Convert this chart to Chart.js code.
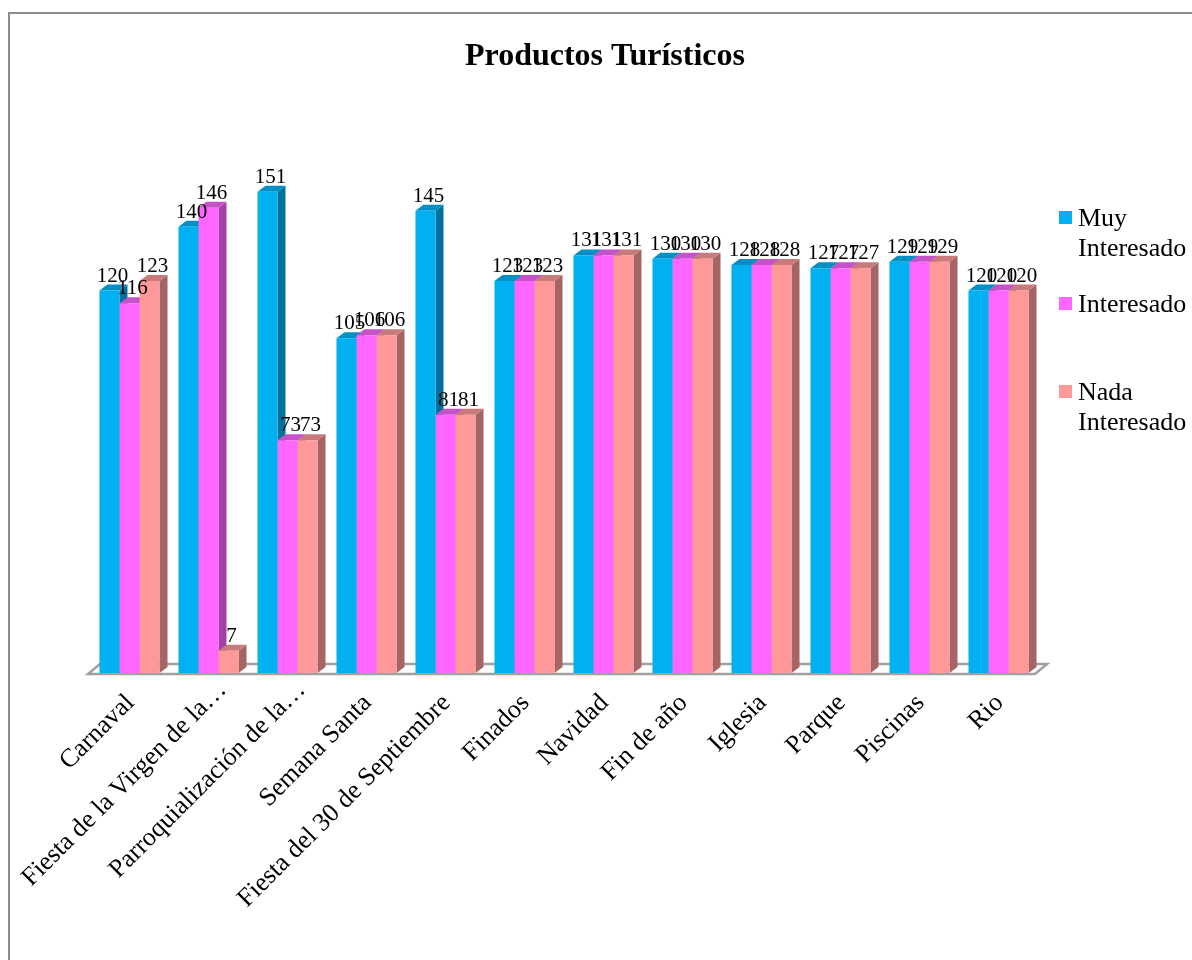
<!DOCTYPE html>
<html>
<head>
<meta charset="utf-8">
<script src="https://cdn.jsdelivr.net/npm/chart.js@4.4.1/dist/chart.umd.min.js"></script>
<style>
  body { margin: 0; background: #fff; overflow: hidden; }
  #frame { position: absolute; left: 8px; top: 12px; width: 1200px; height: 960px; border: 2px solid #8c8c8c; }
  #wrap { position: absolute; left: 0; top: 0; width: 1182px; height: 946px; }
</style>
</head>
<body>
<div id="frame"><div id="wrap"><canvas id="chart"></canvas></div></div>
<script>
const categories = [
  'Carnaval', 'Fiesta de la Virgen de la…', 'Parroquialización de la…', 'Semana Santa',
  'Fiesta del 30 de Septiembre', 'Finados', 'Navidad', 'Fin de año', 'Iglesia',
  'Parque', 'Piscinas', 'Rio'
];
const muyInteresado  = [120, 140, 151, 105, 145, 123, 131, 130, 128, 127, 129, 120];
const interesado     = [116, 146, 73, 106, 81, 123, 131, 130, 128, 127, 129, 120];
const nadaInteresado = [123, 7, 73, 106, 81, 123, 131, 130, 128, 127, 129, 120];
const seriesNames = [['Muy', 'Interesado'], ['Interesado'], ['Nada', 'Interesado']];
const chartTitle = 'Productos Turísticos';

const SERIF = '"Liberation Serif", "Times New Roman", serif';
const front = ['#00b0f0', '#ff66ff', '#ff9999'];
const top3d = ['#0090c6', '#c552c8', '#c97a7a'];
const side3d = ['#00729e', '#a740a6', '#a66565'];
const DX = 8, DY = 6;

// fake 3D: floor, side and top faces drawn before the fronts
const bars3d = {
  id: 'bars3d',
  beforeDatasetsDraw(chart) {
    const ctx = chart.ctx;
    const a = chart.chartArea;
    ctx.save();
    // floor
    ctx.strokeStyle = '#a0a0a0';
    ctx.lineWidth = 2.5;
    ctx.beginPath();
    ctx.moveTo(a.left - 2, a.bottom + 1);
    ctx.lineTo(a.right - 3, a.bottom + 1);
    ctx.lineTo(a.right + 9, a.bottom - 9);
    ctx.lineTo(a.left + 10, a.bottom - 9);
    ctx.closePath();
    ctx.stroke();
    chart.data.datasets.forEach((ds, di) => {
      chart.getDatasetMeta(di).data.forEach(bar => {
        const x0 = bar.x - bar.width / 2, x1 = bar.x + bar.width / 2;
        const yt = bar.y, yb = bar.base;
        ctx.fillStyle = side3d[di];
        ctx.beginPath();
        ctx.moveTo(x1, yt); ctx.lineTo(x1 + DX, yt - DY);
        ctx.lineTo(x1 + DX, yb - DY); ctx.lineTo(x1, yb);
        ctx.closePath(); ctx.fill();
        ctx.fillStyle = top3d[di];
        ctx.beginPath();
        ctx.moveTo(x0, yt); ctx.lineTo(x0 + DX, yt - DY);
        ctx.lineTo(x1 + DX, yt - DY); ctx.lineTo(x1, yt);
        ctx.closePath(); ctx.fill();
      });
    });
    ctx.restore();
  },
  afterDatasetsDraw(chart) {
    const ctx = chart.ctx;
    const a = chart.chartArea;
    const xs = chart.scales.x;
    ctx.save();
    ctx.font = '21px ' + SERIF;
    ctx.fillStyle = '#000';
    ctx.textAlign = 'center';
    ctx.textBaseline = 'bottom';
    chart.data.datasets.forEach((ds, di) => {
      chart.getDatasetMeta(di).data.forEach((bar, i) => {
        ctx.fillText(String(ds.data[i]), bar.x + 3, bar.y - 4);
      });
    });
    // category labels, rotated 45deg; truncated ones overhang by their ellipsis
    ctx.font = '26px ' + SERIF;
    ctx.textAlign = 'right';
    ctx.textBaseline = 'middle';
    const ell = ctx.measureText('…').width * 0.5;
    categories.forEach((label, i) => {
      let ax = xs.getPixelForTick(i) + 1;
      let ay = a.bottom + 26;
      if (label.endsWith('…')) { ax += ell; ay -= ell; }
      ctx.save();
      ctx.translate(ax, ay);
      ctx.rotate(-Math.PI / 4);
      ctx.fillText(label, 0, 0);
      ctx.restore();
    });
    // title
    ctx.font = 'bold 32px ' + SERIF;
    ctx.textAlign = 'center';
    ctx.textBaseline = 'alphabetic';
    ctx.fillText(chartTitle, 595, 51);
    // legend
    const legendY = [[212, 242], [298], [386, 416]];
    ctx.font = '26px ' + SERIF;
    ctx.textAlign = 'left';
    seriesNames.forEach((lines, k) => {
      ctx.fillStyle = front[k];
      ctx.fillRect(1049, legendY[k][0] - 15, 13, 13);
      ctx.fillStyle = '#000';
      lines.forEach((t, j) => ctx.fillText(t, 1068, legendY[k][j]));
    });
    ctx.restore();
  }
};

new Chart(document.getElementById('chart'), {
  type: 'bar',
  data: {
    labels: categories,
    datasets: [
      { label: 'Muy Interesado', data: muyInteresado, backgroundColor: front[0] },
      { label: 'Interesado', data: interesado, backgroundColor: front[1] },
      { label: 'Nada Interesado', data: nadaInteresado, backgroundColor: front[2] }
    ]
  },
  options: {
    responsive: true,
    maintainAspectRatio: false,
    animation: false,
    layout: { padding: { left: 80, right: 154, top: 149, bottom: 0 } },
    datasets: { bar: { categoryPercentage: 0.76, barPercentage: 1.0 } },
    plugins: {
      legend: { display: false },
      tooltip: { enabled: false },
      title: { display: false }
    },
    scales: {
      x: {
        grid: { display: false },
        border: { display: false },
        afterFit(scale) { scale.height = 287; },
        ticks: { display: false }
      },
      y: {
        display: false,
        min: 0,
        max: 160
      }
    }
  },
  plugins: [bars3d]
});
</script>
</body>
</html>
